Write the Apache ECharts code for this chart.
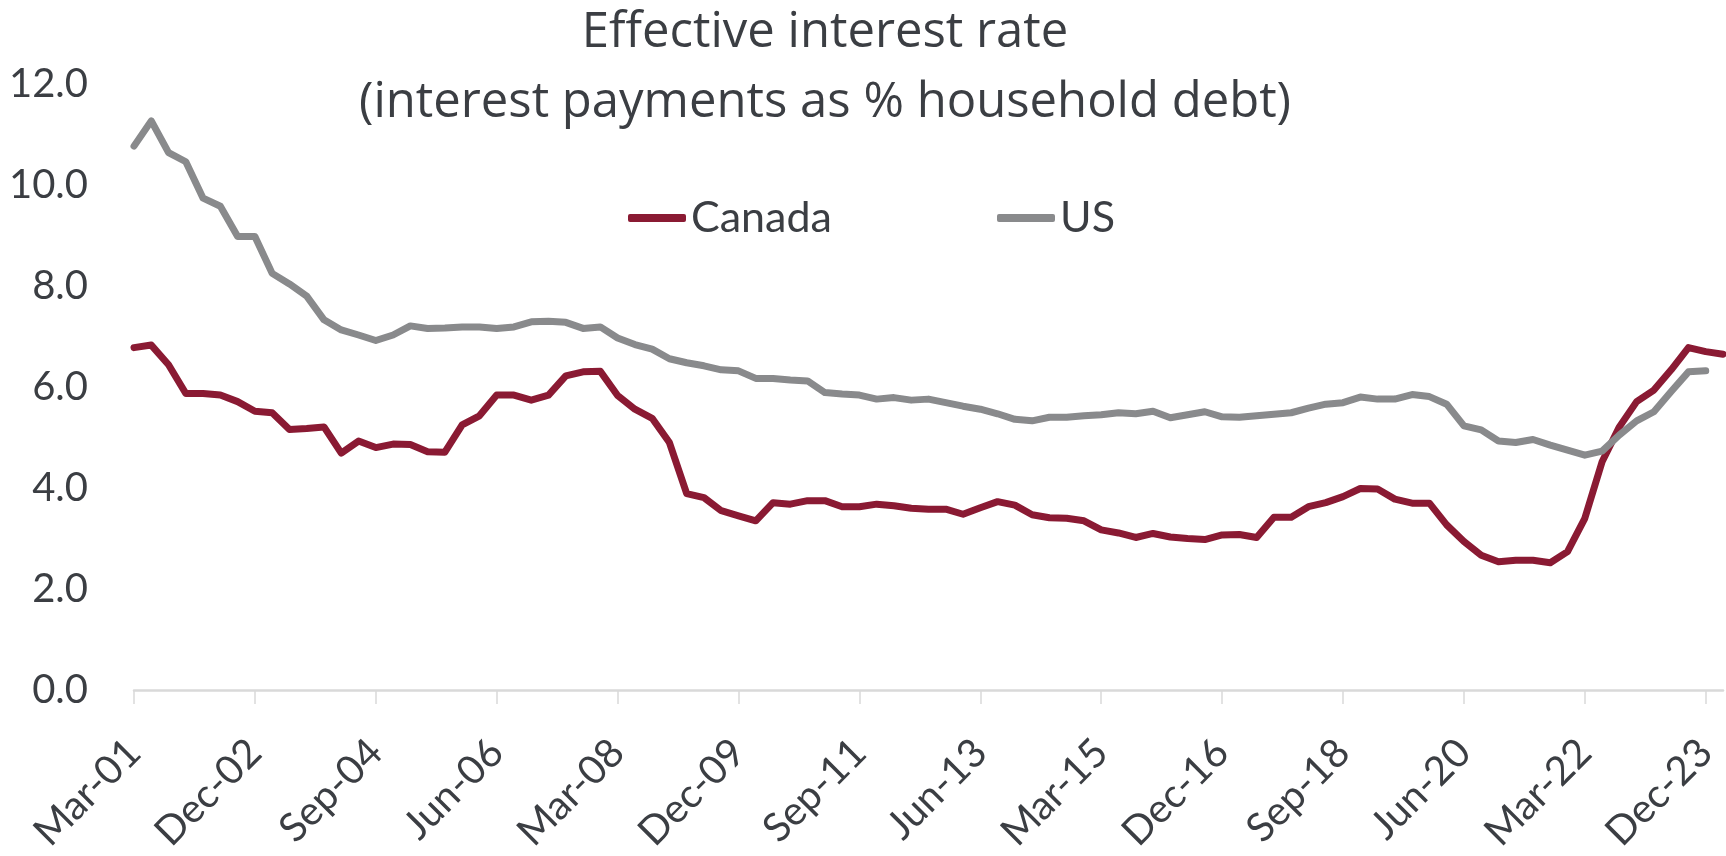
<!DOCTYPE html>
<html>
<head>
<meta charset="utf-8">
<title>Effective interest rate</title>
<script src="https://cdn.jsdelivr.net/npm/echarts@6/dist/echarts.min.js"></script>
<style>
  html, body { margin: 0; padding: 0; background: #ffffff; }
  #chart { width: 1726px; height: 856px; }
</style>
</head>
<body>
<div id="chart"></div>
<script>
// Quarter-end labels, Mar-01 through Mar-24
const quarterMonths = ['Mar', 'Jun', 'Sep', 'Dec'];
const firstYear = 2001;
const quarterCount = 93;
const categories = [];
for (let q = 0; q < quarterCount; q++) {
  const yr = firstYear + Math.floor(q / 4);
  categories.push(quarterMonths[q % 4] + '-' + String(yr % 100).padStart(2, '0'));
}

// Interest payments as % of household debt
const canada = [
  6.78, 6.83, 6.44, 5.87, 5.87, 5.84, 5.71, 5.52, 5.49, 5.16,
  5.18, 5.21, 4.69, 4.93, 4.80, 4.87, 4.86, 4.72, 4.71, 5.25,
  5.43, 5.84, 5.84, 5.74, 5.84, 6.22, 6.30, 6.31, 5.83, 5.56,
  5.38, 4.90, 3.89, 3.81, 3.55, 3.45, 3.35, 3.71, 3.68, 3.75,
  3.75, 3.63, 3.63, 3.68, 3.65, 3.60, 3.58, 3.58, 3.48, 3.61,
  3.73, 3.66, 3.47, 3.41, 3.40, 3.35, 3.17, 3.11, 3.02, 3.10,
  3.03, 3.00, 2.98, 3.07, 3.08, 3.02, 3.42, 3.42, 3.63, 3.71,
  3.83, 3.99, 3.98, 3.78, 3.70, 3.70, 3.27, 2.94, 2.67, 2.54,
  2.57, 2.57, 2.52, 2.74, 3.40, 4.52, 5.21, 5.71, 5.94, 6.34,
  6.78, 6.70, 6.65
];

const us = [
  10.77, 11.27, 10.64, 10.46, 9.74, 9.58, 8.98, 8.98, 8.25, 8.04,
  7.80, 7.33, 7.13, 7.03, 6.92, 7.03, 7.21, 7.16, 7.17, 7.19,
  7.19, 7.16, 7.19, 7.29, 7.30, 7.28, 7.16, 7.19, 6.97, 6.84,
  6.75, 6.56, 6.48, 6.42, 6.34, 6.32, 6.17, 6.17, 6.14, 6.12,
  5.89, 5.86, 5.84, 5.76, 5.79, 5.74, 5.76, 5.69, 5.62, 5.56,
  5.47, 5.36, 5.33, 5.40, 5.40, 5.43, 5.45, 5.49, 5.47, 5.52,
  5.39, 5.45, 5.51, 5.41, 5.40, 5.43, 5.46, 5.49, 5.58, 5.66,
  5.69, 5.80, 5.76, 5.76, 5.85, 5.81, 5.66, 5.23, 5.15, 4.93,
  4.90, 4.96, 4.85, 4.75, 4.65, 4.73, 5.05, 5.33, 5.51, 5.91,
  6.30, 6.32, null
];

const yTicks = { min: 0, max: 12, step: 2 };

const textColor = '#3b3e43';
const fontFamily = 'Lato, "Open Sans", sans-serif';
const titleFont = '"Open Sans", Lato, sans-serif';
const canadaColor = '#8a1a33';
const usColor = '#898a8c';

const chart = echarts.init(document.getElementById('chart'), null, { renderer: 'canvas' });

const titleStyle = { fontFamily: titleFont, fontSize: 49, fontWeight: 'normal', color: textColor, lineHeight: 50 };
const legendStyle = { fontFamily, fontSize: 43, color: textColor, lineHeight: 44 };

chart.setOption({
  backgroundColor: '#ffffff',
  animation: false,
  title: [
    { text: 'Effective interest rate', left: 825, top: 8, textAlign: 'center', padding: 0, textStyle: titleStyle },
    { text: '(interest payments as % household debt)', left: 825, top: 78, textAlign: 'center', padding: 0, textStyle: titleStyle }
  ],
  legend: [
    {
      data: ['Canada'], left: 628, top: 196, padding: 0,
      icon: 'roundRect', itemWidth: 58, itemHeight: 8,
      textStyle: legendStyle
    },
    {
      data: ['US'], left: 997, top: 196, padding: 0,
      icon: 'roundRect', itemWidth: 58, itemHeight: 8,
      textStyle: legendStyle
    }
  ],
  grid: { left: 134, right: 3, top: 84, bottom: 166, containLabel: false },
  xAxis: {
    type: 'category',
    data: categories,
    boundaryGap: false,
    axisLine: { show: true, lineStyle: { color: '#d9d9d9', width: 2.5 } },
    axisTick: { show: true, interval: 6, length: 14, lineStyle: { color: '#d9d9d9', width: 1.5 } },
    axisLabel: {
      interval: 6, rotate: 45, margin: 56,
      fontFamily, fontSize: 40, color: textColor
    },
    splitLine: { show: false }
  },
  yAxis: {
    type: 'value',
    min: yTicks.min, max: yTicks.max, interval: yTicks.step,
    axisLine: { show: false },
    axisTick: { show: false },
    splitLine: { show: false },
    axisLabel: {
      margin: 46, fontFamily, fontSize: 40, color: textColor,
      formatter: v => v.toFixed(1)
    }
  },
  series: [
    {
      name: 'Canada', type: 'line', data: canada,
      showSymbol: false, symbol: 'none', smooth: false,
      itemStyle: { color: canadaColor },
      lineStyle: { color: canadaColor, width: 7, cap: 'round', join: 'round' }
    },
    {
      name: 'US', type: 'line', data: us,
      showSymbol: false, symbol: 'none', smooth: false,
      itemStyle: { color: usColor },
      lineStyle: { color: usColor, width: 7, cap: 'round', join: 'round' }
    }
  ]
});
</script>
</body>
</html>
